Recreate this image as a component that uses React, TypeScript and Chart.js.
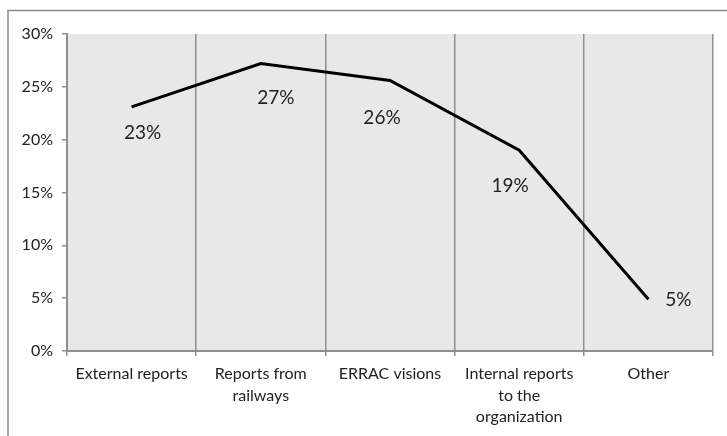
import React, { useEffect, useRef } from "react";
import { Chart, registerables } from "chart.js";

Chart.register(...registerables);

const categories: (string | string[])[] = [
  "External reports",
  ["Reports from", "railways"],
  "ERRAC visions",
  ["Internal reports", "to the", "organization"],
  "Other",
];
const values = [23.1, 27.2, 25.6, 19.0, 4.9];
const valueLabels = ["23%", "27%", "26%", "19%", "5%"];
const labelOffsets = [
  [11, 26],
  [15, 34],
  [-8, 37],
  [-9, 36],
  [30, 1],
];
const yTicks = [0, 5, 10, 15, 20, 25, 30];

const FONT = "Lato, 'Open Sans', sans-serif";

export default function App() {
  const ref = useRef<HTMLCanvasElement | null>(null);
  useEffect(() => {
    const canvas = ref.current!;
    const framePlugin = {
      id: "frame",
      beforeDraw(chart: any) {
        const ctx = chart.ctx;
        const a = chart.chartArea;
        ctx.save();
        ctx.fillStyle = "#e8e8e8";
        ctx.fillRect(a.left, a.top, a.right - a.left, a.bottom - a.top);
        ctx.strokeStyle = "#8a8a8a";
        ctx.lineWidth = 1.5;
        ctx.beginPath();
        ctx.moveTo(8, 436);
        ctx.lineTo(8, 10.5);
        ctx.lineTo(727, 10.5);
        ctx.stroke();
        ctx.restore();
      },
    };
    const labelPlugin = {
      id: "valueLabels",
      afterDatasetsDraw(chart: any) {
        const ctx = chart.ctx;
        const meta = chart.getDatasetMeta(0);
        ctx.save();
        ctx.font = `19px ${FONT}`;
        ctx.fillStyle = "#222222";
        ctx.textAlign = "center";
        ctx.textBaseline = "middle";
        meta.data.forEach((pt: any, i: number) => {
          const [dx, dy] = labelOffsets[i];
          ctx.fillText(valueLabels[i], pt.x + dx, pt.y + dy);
        });
        ctx.restore();
      },
    };
    const chart = new Chart(canvas, {
      type: "line",
      data: {
        labels: categories,
        datasets: [
          {
            data: values,
            borderColor: "#000000",
            borderWidth: 3,
            pointRadius: 0,
            tension: 0,
            fill: false,
          },
        ],
      },
      options: {
        responsive: false,
        animation: false,
        layout: { padding: { top: 34, right: 14, left: 0, bottom: 0 } },
        plugins: { legend: { display: false }, tooltip: { enabled: false } },
        scales: {
          x: {
            type: "category",
            offset: true,
            afterFit: (s: any) => {
              s.height = 85;
            },
            grid: {
              offset: true,
              color: "#8f8f8f",
              lineWidth: 1.5,
              drawTicks: true,
              tickLength: 5,
            },
            border: { display: true, color: "#8f8f8f", width: 2 },
            ticks: {
              font: { family: FONT, size: 16, lineHeight: 1.35 },
              color: "#222222",
              padding: 7,
              maxRotation: 0,
              autoSkip: false,
            },
          },
          y: {
            min: 0,
            max: 30,
            afterFit: (s: any) => {
              s.width = 67;
            },
            afterBuildTicks: (s: any) => {
              s.ticks = yTicks.map((v) => ({ value: v }));
            },
            grid: {
              drawOnChartArea: false,
              drawTicks: true,
              tickLength: 5,
              color: "#8f8f8f",
              lineWidth: 1.5,
            },
            border: { display: true, color: "#8f8f8f", width: 2 },
            ticks: {
              font: { family: FONT, size: 16 },
              color: "#222222",
              padding: 9,
              callback: (v: any) => `${v}%`,
            },
          },
        },
      },
      plugins: [framePlugin, labelPlugin],
    });
    return () => chart.destroy();
  }, []);
  return (
    <div style={{ position: "absolute", left: 0, top: 0, width: 727, height: 436, background: "#fff" }}>
      <canvas ref={ref} width={727} height={436} style={{ display: "block" }} />
    </div>
  );
}
